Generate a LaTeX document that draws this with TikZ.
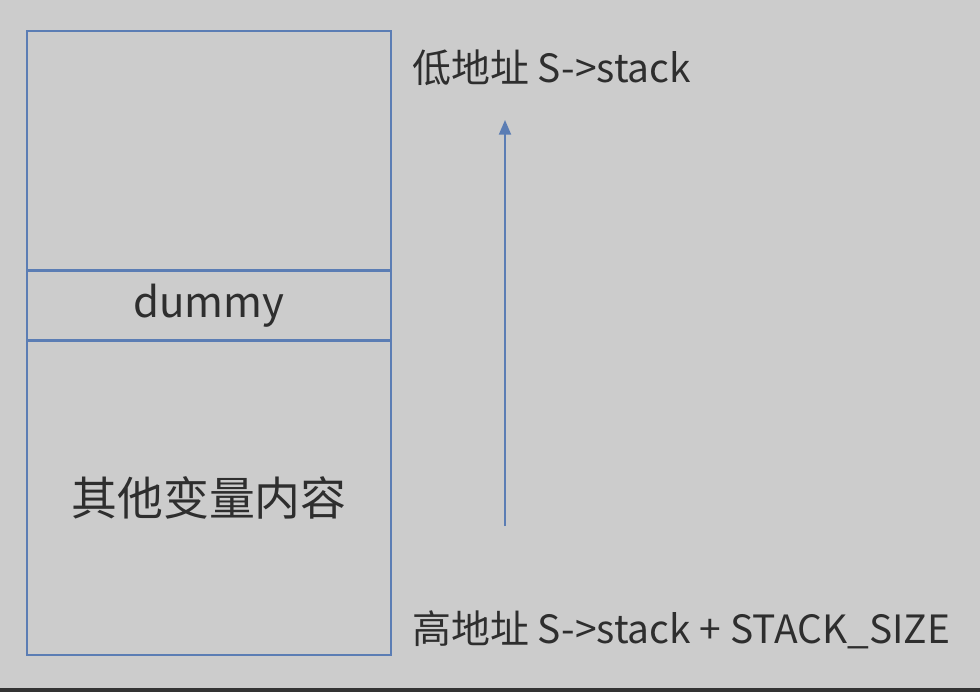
\documentclass[tikz,border=0pt]{standalone}
\usepackage{fontspec}
\setmainfont{Noto Sans CJK SC}
\usetikzlibrary{arrows.meta}
\definecolor{bg}{HTML}{CCCCCC}
\definecolor{edge}{HTML}{5B7DB4}
\definecolor{ink}{HTML}{2E2E2E}
\definecolor{bar}{HTML}{333333}
\tikzset{
  cell/.style={draw=edge, line width=1.5pt},
  lbl/.style={text=ink, inner sep=0pt, font=\fontsize{29.2}{33}\selectfont},
}
\begin{document}
\begin{tikzpicture}[x=0.75pt,y=-0.75pt]
\fill[bg] (0,0) rectangle (980,692);
\useasboundingbox (0,0) rectangle (980,692);
\fill[bar] (0,688) rectangle (980,692);
\node[cell, minimum width=364*0.75pt, minimum height=239*0.75pt, inner sep=0pt] (top) at (209,150.5) {};
\node[cell, minimum width=364*0.75pt, minimum height=70*0.75pt, inner sep=0pt, text=ink, font=\fontsize{31.5}{35}\selectfont] (dummy) at (209,305.5) {dummy};
\node[cell, minimum width=364*0.75pt, minimum height=315*0.75pt, inner sep=0pt, text=ink, font=\fontsize{34.4}{38}\selectfont] (other) at (209,497.5) {其他变量内容};
\node[lbl, anchor=base west] (low) at (412,82) {低地址 S->stack};
\node[lbl, anchor=base west] (high) at (412,643) {高地址 S->stack + STACK\_SIZE};
\coordinate (a0) at (505,526);
\coordinate (a1) at (505,120);
\draw[edge, line width=1.5pt, -{Triangle[length=11pt,width=9pt]}] (a0) -- (a1);
\end{tikzpicture}
\end{document}
